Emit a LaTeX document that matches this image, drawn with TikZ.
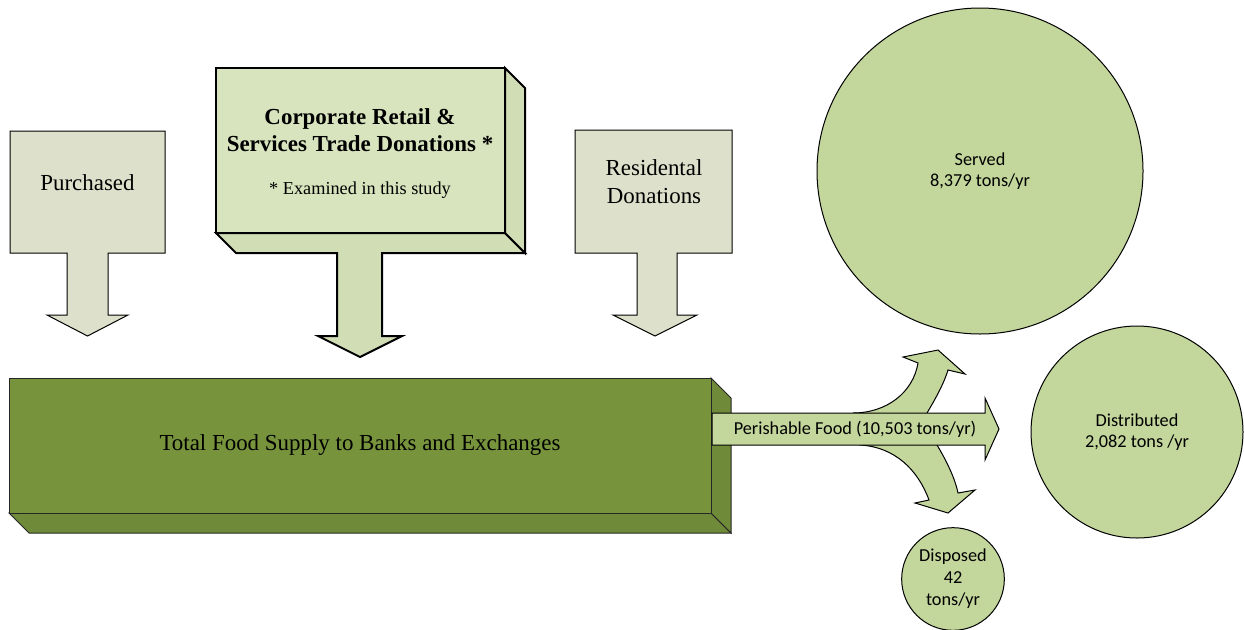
\documentclass[tikz,border=0pt]{standalone}
\usepackage{fontspec}
\setmainfont{Liberation Serif}
\newfontfamily\calibri{Carlito}

\definecolor{paleolive}{HTML}{DDE1CB}
\definecolor{lightolive}{HTML}{D7E4BD}
\definecolor{lightoliveside}{HTML}{D0DDB5}
\definecolor{midolive}{HTML}{C3D69B}
\definecolor{darkolive}{HTML}{77933C}
\definecolor{darkoliveside}{HTML}{6F8A38}

\tikzset{
  callout/.style={draw=black, line width=0.75pt, fill=paleolive, line join=miter},
  corpface/.style={draw=black, line width=1.5pt, fill=lightolive, line join=miter},
  supplyface/.style={draw=black!85, line width=0.75pt, fill=darkolive, line join=miter},
  flowarrow/.style={draw=black, line width=0.75pt, fill=midolive, line join=miter},
  bubble/.style={circle, draw=black, line width=0.75pt, fill=midolive, inner sep=0pt,
    align=center, font=\calibri\fontsize{13.7}{15.75}\selectfont},
  serifbig/.style={font=\fontsize{17.2}{21}\selectfont, align=center, inner sep=0pt},
}

\begin{document}
\begin{tikzpicture}[x=0.75pt,y=0.75pt,yscale=-1,xscale=1]
\useasboundingbox (0,0) rectangle (1244,629);

%Purchased callout
\draw[callout] (10,131) -- (165,131) -- (165,253) -- (108,253) -- (108,315) -- (128,315) -- (87.5,336) -- (47,315) -- (67,315) -- (67,253) -- (10,253) -- cycle;
\node[serifbig] (purch) at (87.5,183) {Purchased};

%Corporate callout (3d box with arrow)
\draw[corpface, fill=lightoliveside] (216,233) -- (505,233) -- (525,253) -- (382,253) -- (382,336) -- (402,336) -- (360,357) -- (318,336) -- (337,336) -- (337,253) -- (236,253) -- cycle;
\draw[corpface, fill=lightoliveside] (505,68) -- (525,88) -- (525,253) -- (505,233) -- cycle;
\draw[corpface] (216,68) rectangle (505,233);
\node[serifbig, font=\bfseries\fontsize{17.2}{20.25}\selectfont] (corp) at (360,130) {Corporate Retail \&\\Services Trade Donations *};
\node[font=\fontsize{13.7}{16}\selectfont, inner sep=0pt] (note) at (360,190) {* Examined in this study};

%Residental callout
\draw[callout] (575,130) -- (732,130) -- (732,253) -- (677,253) -- (677,315) -- (697,315) -- (655,336) -- (613,315) -- (637,315) -- (637,253) -- (575,253) -- cycle;
\node[serifbig] (resid) at (654,182) {Residental\\Donations};

%Total supply box
\draw[supplyface, fill=darkoliveside] (9,513) -- (711,513) -- (731,533) -- (29,533) -- cycle;
\draw[supplyface, fill=darkoliveside] (711,378) -- (731,398) -- (731,533) -- (711,513) -- cycle;
\draw[supplyface] (9,378) rectangle (711,513);
\node[serifbig] (supply) at (360,445) {Total Food Supply to Banks and Exchanges};

%branching flow arrows
\draw[flowarrow] (853,413) .. controls (886,413) and (913,393) .. (918,363) -- (903,357) -- (938,350) -- (965,374) -- (948,370) .. controls (943,386) and (934,401) .. (927,413) -- (927,420) -- (853,420) -- cycle;
\draw[flowarrow] (937,445) .. controls (946,460) and (955,478) .. (958,493) -- (975,490) -- (948,513) -- (915,503) -- (929,500) .. controls (918,470) and (895,447) .. (860,445) -- (860,438) -- (937,438) -- cycle;
\draw[flowarrow] (712,413) -- (985,413) -- (985,398) -- (999,429) -- (985,460) -- (985,445) -- (712,445) -- cycle;
\node[font=\calibri\fontsize{13.7}{16}\selectfont, inner sep=0pt] (perish) at (855,429) {Perishable Food (10,503 tons/yr)};

%end uses
\node[bubble, minimum size=244.5pt] (served) at (980,171) {Served\\8,379 tons/yr};
\node[bubble, minimum size=159pt] (distrib) at (1137,432) {Distributed\\2,082 tons /yr};
\node[bubble, minimum size=77pt, font=\calibri\fontsize{13.7}{16.5}\selectfont] (disposed) at (953,579) {Disposed\\42\\tons/yr};
\end{tikzpicture}
\end{document}
